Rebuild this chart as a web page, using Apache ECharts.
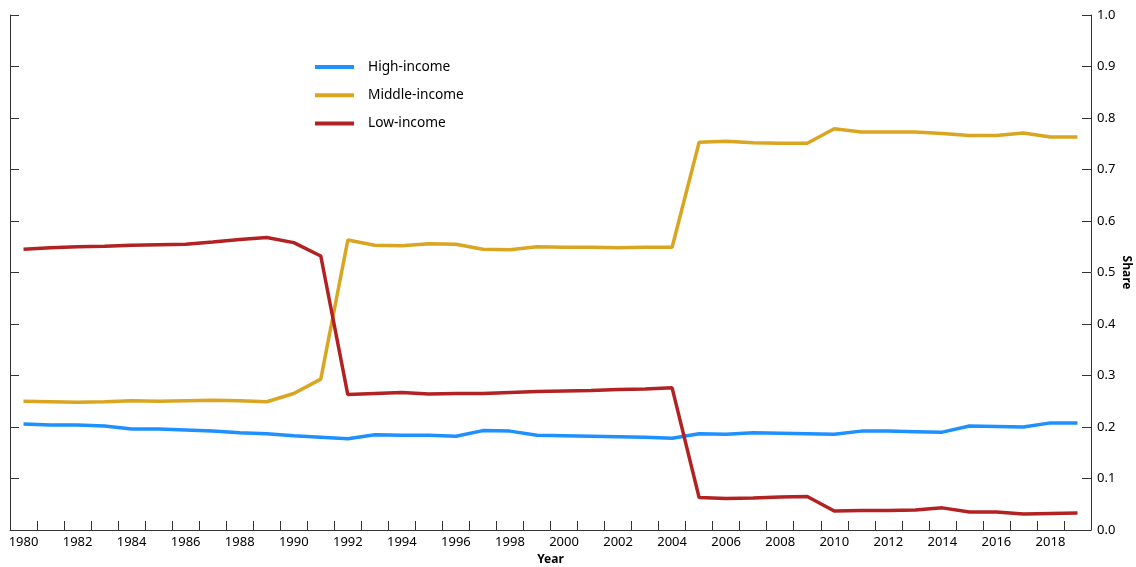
<!DOCTYPE html>
<html>
<head>
<meta charset="utf-8">
<script src="https://cdn.jsdelivr.net/npm/echarts@6/dist/echarts.min.js"></script>
<style>html,body{margin:0;padding:0;background:#fff;}#c{width:1136px;height:567px;}</style>
</head>
<body>
<div id="c"></div>
<script>
const years = [];
for (let y = 1980; y <= 2019; y++) years.push(String(y));

const highIncome = [0.206,0.204,0.204,0.202,0.196,0.196,0.194,0.192,0.189,0.187,
  0.183,0.180,0.177,0.185,0.184,0.184,0.182,0.193,0.192,0.184,
  0.183,0.182,0.181,0.180,0.178,0.187,0.186,0.189,0.188,0.187,
  0.186,0.192,0.192,0.191,0.190,0.202,0.201,0.200,0.208,0.208];

const middleIncome = [0.250,0.249,0.248,0.249,0.251,0.250,0.251,0.252,0.251,0.249,
  0.265,0.293,0.563,0.553,0.552,0.556,0.555,0.545,0.544,0.550,
  0.549,0.549,0.548,0.549,0.549,0.753,0.755,0.752,0.751,0.751,
  0.779,0.773,0.773,0.773,0.770,0.766,0.766,0.771,0.763,0.763];

const lowIncome = [0.545,0.548,0.550,0.551,0.553,0.554,0.555,0.559,0.564,0.568,
  0.558,0.532,0.263,0.265,0.267,0.264,0.265,0.265,0.267,0.269,
  0.270,0.271,0.273,0.274,0.276,0.063,0.061,0.062,0.064,0.065,
  0.037,0.038,0.038,0.039,0.043,0.035,0.035,0.031,0.032,0.033];

const seriesNames = ['High-income','Middle-income','Low-income'];
const colors = ['#1e90ff','#daa520','#b22222'];

const FONT = 'Noto Sans';
const chart = echarts.init(document.getElementById('c'));
const axisLine = {show:true, lineStyle:{color:'#333', width:1}};
const yCommon = {
  type:'value', min:0, max:1, interval:0.1,
  axisLine: axisLine,
  axisTick:{show:true, inside:true, length:9, lineStyle:{color:'#333'}},
  splitLine:{show:false}
};
chart.setOption({
  animation:false,
  textStyle:{fontFamily:FONT},
  grid:{left:10, right:45, top:15, bottom:37, containLabel:false, outerBoundsMode:'none'},
  legend:{
    orient:'vertical', left:310, top:55, icon:'rect',
    itemWidth:39, itemHeight:4, itemGap:14.3,
    textStyle:{fontFamily:FONT, fontSize:13.7, color:'#000', lineHeight:14, padding:[0,0,0,9]},
    data:seriesNames
  },
  xAxis:{
    type:'category', data:years, boundaryGap:true,
    name:'Year', nameLocation:'middle', nameGap:22,
    nameTextStyle:{fontFamily:FONT, fontWeight:'bold', fontSize:12, color:'#000'},
    axisLine: axisLine,
    axisTick:{show:true, inside:true, length:9, interval:0, lineStyle:{color:'#333'}},
    axisLabel:{interval:1, margin:6, fontFamily:FONT, fontSize:13, color:'#000'},
    splitLine:{show:false}
  },
  yAxis:[
    Object.assign({}, yCommon, {
      position:'right',
      name:'Share', nameLocation:'middle', nameRotate:-90, nameGap:29,
      nameMoveOverlap:false,
      nameTextStyle:{fontFamily:FONT, fontWeight:'bold', fontSize:12, color:'#000'},
      axisLabel:{margin:6, fontFamily:FONT, fontSize:13, color:'#000',
        formatter: v => v.toFixed(1)}
    }),
    Object.assign({}, yCommon, {position:'left', axisLabel:{show:false}})
  ],
  series:[highIncome, middleIncome, lowIncome].map((d,i)=>({
    name:seriesNames[i], type:'line', data:d, yAxisIndex:0,
    showSymbol:false, symbol:'none',
    lineStyle:{color:colors[i], width:3.5},
    itemStyle:{color:colors[i]}
  }))
});
</script>
</body>
</html>
